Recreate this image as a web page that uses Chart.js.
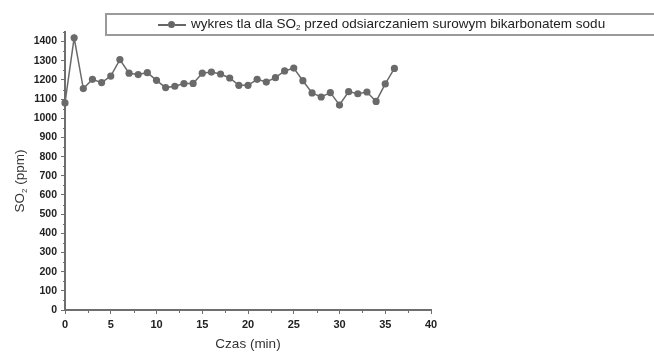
<!DOCTYPE html>
<html>
<head>
<meta charset="utf-8">
<script src="https://cdn.jsdelivr.net/npm/chart.js@4/dist/chart.umd.min.js"></script>
<style>
  html,body{margin:0;padding:0;background:#fff;overflow:hidden;width:654px;height:352px;}
  #wrap{position:relative;width:654px;height:352px;overflow:hidden;}
  #legend{position:absolute;left:105px;top:13px;width:700px;height:19px;border:2px solid #9a9a9a;border-right:none;
    font-family:"Liberation Sans",Arial,sans-serif;font-size:13.5px;color:#222;white-space:nowrap;}
  #legend .txt{position:absolute;left:84px;top:1px;}
  #legend .ln{position:absolute;top:9px;height:2px;background:#666;}
  #legend .dot{position:absolute;left:61px;top:6px;width:7px;height:7px;border-radius:50%;background:#666;}
  sub{font-size:8px;vertical-align:-2px;line-height:0;}
</style>
</head>
<body>
<div id="wrap">
  <canvas id="c" width="654" height="352"></canvas>
  <div id="legend">
    <div class="ln" style="left:51px;width:10px"></div>
    <div class="dot"></div>
    <div class="ln" style="left:68px;width:11px"></div>
    <span class="txt">wykres tla dla SO<sub>2</sub> przed odsiarczaniem surowym bikarbonatem sodu</span>
  </div>
</div>
<script>
const minutes = [0,1,2,3,4,5,6,7,8,9,10,11,12,13,14,15,16,17,18,19,20,21,22,23,24,25,26,27,28,29,30,31,32,33,34,35,36];
const so2 = [1080,1420,1155,1203,1186,1220,1306,1235,1228,1238,1198,1160,1167,1181,1182,1235,1241,1231,1210,1172,1172,1203,1189,1212,1247,1262,1196,1132,1111,1134,1069,1139,1128,1137,1088,1179,1260];
const xTicks = [0,5,10,15,20,25,30,35,40];
const yTicks = [0,100,200,300,400,500,600,700,800,900,1000,1100,1200,1300,1400];
const yTitleParts = ['SO', '2', ' (ppm)'];

const AXIS = '#6e6e6e';
const FONT = '"Liberation Sans", Arial, sans-serif';
const extras = {
  id:'extras',
  afterDraw(chart){
    const ctx = chart.ctx, xs = chart.scales.x, ys = chart.scales.y;
    ctx.save();
    ctx.strokeStyle = AXIS; ctx.lineWidth = 1;
    for (let i=0;i<xTicks.length-1;i++){
      const px = Math.round(xs.getPixelForValue((xTicks[i]+xTicks[i+1])/2))+0.5;
      ctx.beginPath(); ctx.moveTo(px, ys.bottom); ctx.lineTo(px, ys.bottom+3); ctx.stroke();
    }
    for (let i=0;i<yTicks.length;i++){
      const v = yTicks[i]+50;
      const py = Math.round(ys.getPixelForValue(v))+0.5;
      ctx.beginPath(); ctx.moveTo(xs.left-2, py); ctx.lineTo(xs.left, py); ctx.stroke();
    }
    // y axis title with real subscript
    const big = '13.5px ' + FONT, small = '8px ' + FONT;
    ctx.font = big; const w0 = ctx.measureText(yTitleParts[0]).width, w2 = ctx.measureText(yTitleParts[2]).width;
    ctx.font = small; const w1 = ctx.measureText(yTitleParts[1]).width;
    const total = w0 + w1 + w2;
    const cy = (ys.top + ys.bottom)/2 + 10;
    ctx.translate(24, cy);
    ctx.rotate(-Math.PI/2);
    ctx.fillStyle = '#333';
    ctx.textBaseline = 'alphabetic';
    let x = -total/2;
    ctx.font = big; ctx.fillText(yTitleParts[0], x, 0); x += w0;
    ctx.font = small; ctx.fillText(yTitleParts[1], x, 3); x += w1;
    ctx.font = big; ctx.fillText(yTitleParts[2], x, 0);
    ctx.restore();
  }
};

new Chart(document.getElementById('c'), {
  type:'line',
  data:{
    labels: minutes,
    datasets:[{
      data: minutes.map((m,i)=>({x:m,y:so2[i]})),
      borderColor:'#6a6a6a', borderWidth:1.5,
      pointBackgroundColor:'#6a6a6a', pointBorderWidth:0, pointRadius:3.6,
      tension:0, clip:false
    }]
  },
  options:{
    responsive:false, animation:false, devicePixelRatio:1,
    layout:{padding:{left:0,right:223,top:32,bottom:0}},
    plugins:{legend:{display:false}, tooltip:{enabled:false}},
    scales:{
      x:{
        type:'linear', min:0, max:40,
        afterBuildTicks(s){ s.ticks = xTicks.map(v=>({value:v})); },
        afterFit(s){ s.height = 42; },
        border:{color:AXIS,width:2},
        grid:{drawOnChartArea:false, drawTicks:true, tickLength:4, color:AXIS, tickWidth:1},
        ticks:{color:'#222', padding:4, maxRotation:0, callback:v=>String(v), font:{family:FONT, size:11, weight:'bold'}},
        title:{display:true, text:'Czas (min)', color:'#333', padding:{top:4,bottom:0}, font:{family:FONT, size:13.5}}
      },
      y:{
        type:'linear', min:0, max:1450,
        afterBuildTicks(s){ s.ticks = yTicks.map(v=>({value:v})); },
        afterFit(s){ s.width = 65; },
        border:{color:AXIS,width:2},
        grid:{drawOnChartArea:false, drawTicks:true, tickLength:4, color:AXIS, tickWidth:1},
        ticks:{color:'#222', padding:4, callback:v=>String(v), font:{family:FONT, size:10.5, weight:'bold'}},
        title:{display:false}
      }
    }
  },
  plugins:[extras]
});
</script>
</body>
</html>
